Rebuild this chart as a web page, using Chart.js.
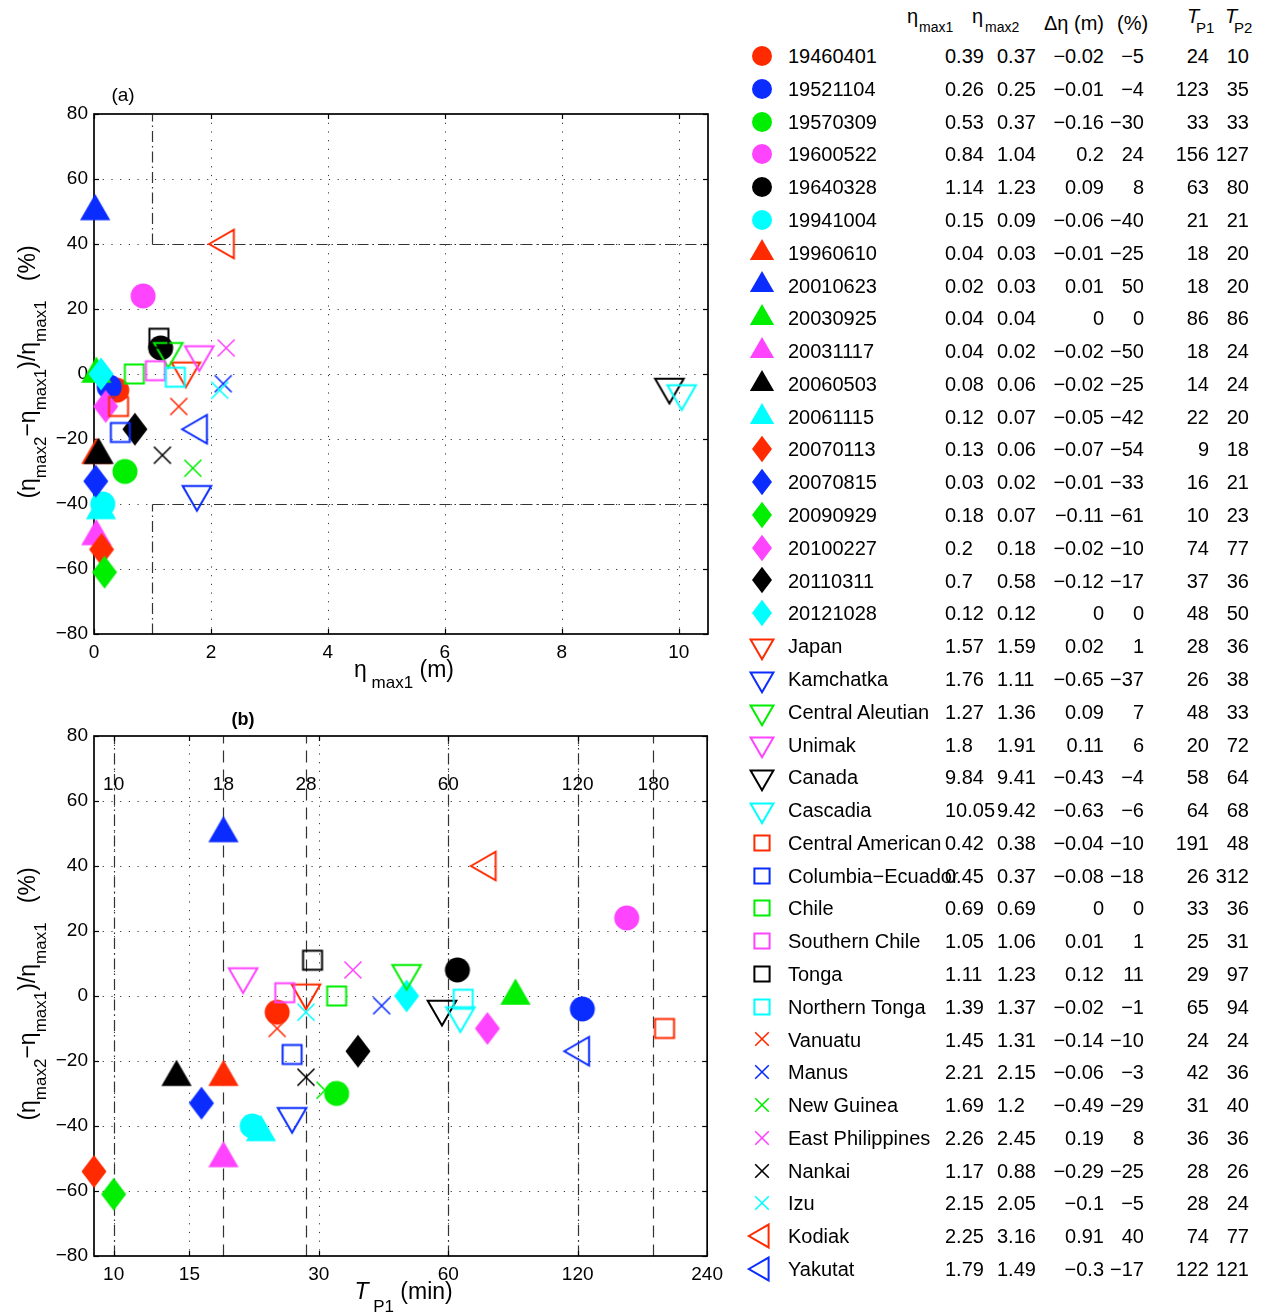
<!DOCTYPE html>
<html>
<head>
<meta charset="utf-8">
<title>Second peak vs first peak</title>
<script src="https://cdn.jsdelivr.net/npm/chart.js@4.4.1/dist/chart.umd.min.js"></script>
<style>
  html, body { margin: 0; padding: 0; background: #fff; overflow: hidden; }
  #page { position: relative; width: 1283px; height: 1315px; font-family: "Liberation Sans", Arial, sans-serif; color: #000; }
  #page canvas.plot { position: absolute; left: 0; }
  .cell { position: absolute; white-space: nowrap; }
  .mk { position: absolute; }
</style>
</head>
<body>
<div id="page">
  <canvas id="chartA" class="plot" width="730" height="700" style="top:0;width:730px;height:700px"></canvas>
  <canvas id="chartB" class="plot" width="730" height="615" style="top:700px;width:730px;height:615px"></canvas>
</div>
<script>
// events: name, eta_max1 (m), eta_max2 (m), delta eta (m), change (%), T_P1, T_P2 (min)
const names = ['19460401', '19521104', '19570309', '19600522', '19640328', '19941004',
  '19960610', '20010623', '20030925', '20031117', '20060503', '20061115',
  '20070113', '20070815', '20090929', '20100227', '20110311', '20121028',
  'Japan', 'Kamchatka', 'Central Aleutian', 'Unimak', 'Canada', 'Cascadia',
  'Central American', 'Columbia\u2212Ecuador', 'Chile', 'Southern Chile', 'Tonga', 'Northern Tonga',
  'Vanuatu', 'Manus', 'New Guinea', 'East Philippines', 'Nankai', 'Izu',
  'Kodiak', 'Yakutat'];
const etaMax1 = [0.39, 0.26, 0.53, 0.84, 1.14, 0.15, 0.04, 0.02, 0.04, 0.04, 0.08, 0.12,
  0.13, 0.03, 0.18, 0.2, 0.7, 0.12, 1.57, 1.76, 1.27, 1.8, 9.84, 10.05,
  0.42, 0.45, 0.69, 1.05, 1.11, 1.39, 1.45, 2.21, 1.69, 2.26, 1.17, 2.15, 2.25, 1.79];
const etaMax2 = [0.37, 0.25, 0.37, 1.04, 1.23, 0.09, 0.03, 0.03, 0.04, 0.02, 0.06, 0.07,
  0.06, 0.02, 0.07, 0.18, 0.58, 0.12, 1.59, 1.11, 1.36, 1.91, 9.41, 9.42,
  0.38, 0.37, 0.69, 1.06, 1.23, 1.37, 1.31, 2.15, 1.2, 2.45, 0.88, 2.05, 3.16, 1.49];
const dEta = [-0.02, -0.01, -0.16, 0.2, 0.09, -0.06, -0.01, 0.01, 0, -0.02, -0.02, -0.05,
  -0.07, -0.01, -0.11, -0.02, -0.12, 0, 0.02, -0.65, 0.09, 0.11, -0.43, -0.63,
  -0.04, -0.08, 0, 0.01, 0.12, -0.02, -0.14, -0.06, -0.49, 0.19, -0.29, -0.1, 0.91, -0.3];
const pctChange = [-5, -4, -30, 24, 8, -40, -25, 50, 0, -50, -25, -42,
  -54, -33, -61, -10, -17, 0, 1, -37, 7, 6, -4, -6,
  -10, -18, 0, 1, 11, -1, -10, -3, -29, 8, -25, -5, 40, -17];
const tP1 = [24, 123, 33, 156, 63, 21, 18, 18, 86, 18, 14, 22,
  9, 16, 10, 74, 37, 48, 28, 26, 48, 20, 58, 64,
  191, 26, 33, 25, 29, 65, 24, 42, 31, 36, 28, 28, 74, 122];
const tP2 = [10, 35, 33, 127, 80, 21, 20, 20, 86, 24, 24, 20,
  18, 21, 23, 77, 36, 50, 36, 38, 33, 72, 64, 68,
  48, 312, 36, 31, 97, 94, 24, 36, 40, 36, 26, 24, 77, 121];

// axes
const etaTicks = [0, 2, 4, 6, 8, 10];
const pctTicks = [-80, -60, -40, -20, 0, 20, 40, 60, 80];
const periodTicks = [10, 15, 30, 60, 120, 240];
// reference lines
const etaRef = 1;
const pctRef = 40;
const periodRefs = [10, 18, 28, 60, 120, 180];

// styles
const palette = ['#ff2a00', '#0a2cff', '#00ee00', '#ff44ff', '#000000', '#00ffff'];
const shapeGroups = ['circle', 'triUp', 'diamond', 'triDown', 'square', 'cross', 'triLeft'];
const periodDash = ['dashdot', 'dash', 'dash', 'dashdot', 'dashdot', 'dash'];
const DASH = { dot: [1.2, 7.5], dashdot: [11, 4, 1.5, 4], dash: [12, 7] };
const FONT = '"Liberation Sans", Arial, sans-serif';

Chart.defaults.font.family = FONT;
Chart.defaults.color = '#000';

const fmt = v => (v < 0 ? '\u2212' + (-v) : String(v));

function tri(g, cx, cy, r, a) {
  for (let k = 0; k < 3; k++) {
    const t = a + k * 2 * Math.PI / 3;
    const px = cx + r * Math.sin(t), py = cy - r * Math.cos(t);
    if (k === 0) g.moveTo(px, py); else g.lineTo(px, py);
  }
  g.closePath();
}

// marker sprites used as pointStyle
function makeMarker(shape, color, s) {
  const size = 2 * Math.ceil(20 * s + 3);
  const c = document.createElement('canvas');
  c.width = size; c.height = size;
  const g = c.getContext('2d');
  const cx = size / 2, cy = size / 2;
  g.fillStyle = color; g.strokeStyle = color; g.lineWidth = 2;
  g.beginPath();
  if (shape === 'circle') {
    g.arc(cx, cy, 12.5 * s, 0, 2 * Math.PI); g.fill();
  } else if (shape === 'triUp') {
    tri(g, cx, cy, 17.5 * s, 0); g.fill();
  } else if (shape === 'diamond') {
    g.moveTo(cx, cy - 16.5 * s); g.lineTo(cx + 12.5 * s, cy);
    g.lineTo(cx, cy + 16.5 * s); g.lineTo(cx - 12.5 * s, cy); g.closePath(); g.fill();
  } else if (shape === 'triDown') {
    tri(g, cx, cy, 16.5 * s, Math.PI); g.stroke();
  } else if (shape === 'square') {
    g.rect(cx - 9.5 * s, cy - 9.5 * s, 19 * s, 19 * s); g.stroke();
  } else if (shape === 'cross') {
    g.lineWidth = 1.6;
    const h = 8.5 * s;
    g.moveTo(cx - h, cy - h); g.lineTo(cx + h, cy + h);
    g.moveTo(cx + h, cy - h); g.lineTo(cx - h, cy + h); g.stroke();
  } else if (shape === 'triLeft') {
    tri(g, cx, cy, 16.5 * s, -Math.PI / 2); g.stroke();
  }
  return c;
}

const shapeOf = i => shapeGroups[Math.floor(i / 6)];
const colorOf = i => palette[i % 6];
const plotMarkers = names.map((n, i) => makeMarker(shapeOf(i), colorOf(i), 1));

function line(ctx, x0, y0, x1, y1) {
  ctx.beginPath(); ctx.moveTo(x0, y0); ctx.lineTo(x1, y1); ctx.stroke();
}

function drawRich(ctx, parts, x, y, rot, size, subSize, drop) {
  ctx.save();
  ctx.translate(x, y);
  ctx.rotate(rot);
  ctx.fillStyle = '#000';
  ctx.textBaseline = 'alphabetic';
  ctx.textAlign = 'left';
  const fontOf = p => (p.it ? 'italic ' : '') + (p.sub ? subSize : size) + 'px ' + FONT;
  let total = 0;
  const widths = parts.map(p => { ctx.font = fontOf(p); const w = ctx.measureText(p.t).width; total += w; return w; });
  let xx = -total / 2;
  parts.forEach((p, k) => {
    ctx.font = fontOf(p);
    ctx.fillText(p.t, xx, p.sub ? drop : 0);
    xx += widths[k];
  });
  ctx.restore();
}

const yTitle = [{ t: '(\u03b7' }, { t: 'max2', sub: true }, { t: '\u2212\u03b7' }, { t: 'max1', sub: true },
  { t: ')/\u03b7' }, { t: 'max1', sub: true }, { t: '   (%)' }];

function makeFrame(cfg) {
  return {
    id: 'frame',
    beforeDatasetsDraw(chart) {
      const { ctx, chartArea: a } = chart;
      const x = chart.scales.x, y = chart.scales.y;
      const snap = v => Math.round(v) + 0.5;
      ctx.save();
      // dotted grid
      ctx.strokeStyle = '#3a3a3a'; ctx.lineWidth = 1; ctx.setLineDash(DASH.dot);
      x.ticks.forEach(t => {
        const p = snap(x.getPixelForValue(t.value));
        if (p > a.left + 2 && p < a.right - 2) line(ctx, p, a.top, p, a.bottom);
      });
      y.ticks.forEach(t => {
        const p = snap(y.getPixelForValue(t.value));
        if (p > a.top + 2 && p < a.bottom - 2) line(ctx, a.left, p, a.right, p);
      });
      // reference lines
      ctx.strokeStyle = '#333'; ctx.lineWidth = 1.2;
      cfg.refs(x, y).forEach(r => {
        ctx.setLineDash(DASH[r.dash]);
        const x0 = snap(x.getPixelForValue(r.x0)), x1 = snap(x.getPixelForValue(r.x1));
        const y0 = snap(y.getPixelForValue(r.y0)), y1 = snap(y.getPixelForValue(r.y1));
        line(ctx, x0, y0, x1, y1);
      });
      // labels on the reference lines
      if (cfg.refLabels) {
        ctx.setLineDash([]);
        ctx.fillStyle = '#000'; ctx.font = '19px ' + FONT;
        ctx.textAlign = 'center'; ctx.textBaseline = 'middle';
        cfg.refLabels.forEach(v => ctx.fillText(String(v), x.getPixelForValue(v), a.top + 49));
      }
      // box and inward ticks
      ctx.setLineDash([]); ctx.strokeStyle = '#000'; ctx.lineWidth = 1.7;
      ctx.strokeRect(a.left, a.top, a.right - a.left, a.bottom - a.top);
      ctx.lineWidth = 1.2;
      x.ticks.forEach(t => {
        const p = snap(x.getPixelForValue(t.value));
        line(ctx, p, a.bottom, p, a.bottom - 5); line(ctx, p, a.top, p, a.top + 5);
      });
      y.ticks.forEach(t => {
        const p = snap(y.getPixelForValue(t.value));
        line(ctx, a.left, p, a.left + 5, p); line(ctx, a.right, p, a.right - 5, p);
      });
      ctx.restore();
    },
    afterDraw(chart) {
      const { ctx, chartArea: a } = chart;
      ctx.save();
      ctx.fillStyle = '#000';
      ctx.font = (cfg.panelBold ? 'bold 18px ' : '19px ') + FONT;
      ctx.textAlign = 'center'; ctx.textBaseline = 'middle';
      ctx.fillText(cfg.panel, cfg.panelX, a.top - cfg.panelDy);
      ctx.restore();
      drawRich(ctx, cfg.xTitle, (a.left + a.right) / 2 + 3, a.bottom + 43, 0, 23, 17, cfg.xDrop);
      drawRich(ctx, yTitle, 35, (a.top + a.bottom) / 2 - 2, -Math.PI / 2, 23, 17, 11);
    }
  };
}

function scatterChart(id, xVals, xScale, cfg) {
  const datasets = names.map((n, i) => ({
    label: n,
    data: [{ x: xVals[i], y: pctChange[i] }],
    pointStyle: plotMarkers[i],
    pointRadius: 6,
    order: names.length - i,
    clip: false
  }));
  const tickFont = { size: 19, family: FONT };
  return new Chart(document.getElementById(id), {
    type: 'scatter',
    data: { datasets },
    options: {
      responsive: false,
      animation: false,
      events: [],
      layout: { padding: { left: 34, right: 22, top: cfg.top, bottom: cfg.bottom } },
      plugins: { legend: { display: false }, tooltip: { enabled: false } },
      scales: {
        x: Object.assign({
          grid: { display: false, drawTicks: false },
          border: { display: false },
          ticks: { padding: 7, font: tickFont, color: '#000', maxRotation: 0, autoSkip: false, callback: v => fmt(v) },
          afterFit: s => { s.height = 40; }
        }, xScale),
        y: {
          type: 'linear', min: -80, max: 80,
          grid: { display: false, drawTicks: false },
          border: { display: false },
          ticks: { padding: 6, font: tickFont, color: '#000', autoSkip: false, callback: v => fmt(v) },
          afterBuildTicks: s => { s.ticks = pctTicks.map(v => ({ value: v })); },
          afterFit: s => { s.width = 60; }
        }
      }
    },
    plugins: [makeFrame(cfg)]
  });
}

// (a) change vs first peak height
scatterChart('chartA', etaMax1, {
  type: 'linear', min: 0, max: 10.5,
  afterBuildTicks: s => { s.ticks = etaTicks.map(v => ({ value: v })); }
}, {
  top: 114, bottom: 26,
  panel: '(a)', panelBold: false, panelX: 123, panelDy: 18,
  xTitle: [{ t: '\u03b7' }, { t: ' max1', sub: true }, { t: ' (m)' }], xDrop: 11,
  refs: (x, y) => [
    { x0: etaRef, x1: etaRef, y0: pctRef, y1: y.max, dash: 'dashdot' },
    { x0: etaRef, x1: etaRef, y0: y.min, y1: -pctRef, dash: 'dashdot' },
    { x0: etaRef, x1: x.max, y0: pctRef, y1: pctRef, dash: 'dashdot' },
    { x0: etaRef, x1: x.max, y0: -pctRef, y1: -pctRef, dash: 'dashdot' }
  ]
});

// (b) change vs period of first peak
scatterChart('chartB', tP1, {
  type: 'logarithmic', min: 9, max: 240,
  afterBuildTicks: s => { s.ticks = periodTicks.map(v => ({ value: v })); }
}, {
  top: 36, bottom: 19,
  panel: '(b)', panelBold: true, panelX: 243, panelDy: 16,
  xTitle: [{ t: 'T', it: true }, { t: ' P1', sub: true }, { t: ' (min)' }], xDrop: 13,
  refLabels: periodRefs,
  refs: (x, y) => periodRefs.map((v, k) => ({ x0: v, x1: v, y0: y.min, y1: y.max, dash: periodDash[k] }))
});

// table on the right
const page = document.getElementById('page');
function addText(txt, x, base, size, opts) {
  const d = document.createElement('div');
  d.className = 'cell';
  d.textContent = txt;
  d.style.fontSize = size + 'px';
  d.style.lineHeight = size + 'px';
  d.style.top = (base - 0.8465 * size).toFixed(1) + 'px';
  if (opts && opts.right) d.style.right = (1283 - x) + 'px'; else d.style.left = x + 'px';
  if (opts && opts.italic) d.style.fontStyle = 'italic';
  page.appendChild(d);
}

addText('\u03b7', 907, 23, 20); addText('max1', 919, 32, 14);
addText('\u03b7', 972, 23, 20); addText('max2', 985, 32, 14);
addText('\u0394\u03b7 (m)', 1044, 30, 20);
addText('(%)', 1117, 30, 20);
addText('T', 1187, 23, 20, { italic: true }); addText('P1', 1196, 33, 15);
addText('T', 1225, 23, 20, { italic: true }); addText('P2', 1234, 33, 15);

const rowPitch = 32.78;
names.forEach((n, i) => {
  const base = 63 + i * rowPitch;
  const mk = makeMarker(shapeOf(i), colorOf(i), 0.8);
  mk.className = 'mk';
  mk.style.left = (762 - mk.width / 2) + 'px';
  mk.style.top = (base - 7 - mk.height / 2) + 'px';
  page.appendChild(mk);
  addText(n, 788, base, 20);
  addText(String(etaMax1[i]), 945, base, 20);
  addText(String(etaMax2[i]), 997, base, 20);
  addText(fmt(dEta[i]), 1104, base, 20, { right: true });
  addText(fmt(pctChange[i]), 1144, base, 20, { right: true });
  addText(String(tP1[i]), 1209, base, 20, { right: true });
  addText(String(tP2[i]), 1249, base, 20, { right: true });
});
</script>
</body>
</html>
